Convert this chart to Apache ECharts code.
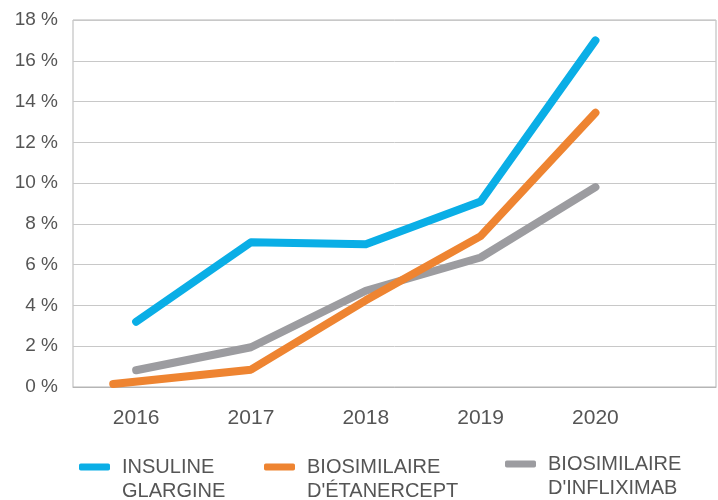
<!DOCTYPE html>
<html>
<head>
<meta charset="utf-8">
<script src="https://cdn.jsdelivr.net/npm/echarts@6/dist/echarts.min.js"></script>
<style>html,body{margin:0;padding:0;background:#fff}#c{width:718px;height:500px}</style>
</head>
<body>
<div id="c"></div>
<script>
// Data
const years = [2016, 2017, 2018, 2019, 2020];
const yearLabels = ['2016', '2017', '2018', '2019', '2020'];
const insulineX = [2016, 2017, 2018, 2019, 2020];
const insuline = [3.2, 7.1, 7.0, 9.1, 17.0];
const etanerceptX = [2015.8, 2017, 2018, 2019, 2020];
const etanercept = [0.15, 0.85, 4.25, 7.4, 13.45];
const infliximabX = [2016, 2017, 2018, 2019, 2020];
const infliximab = [0.82, 1.95, 4.72, 6.35, 9.8];
const yTicks = [0, 2, 4, 6, 8, 10, 12, 14, 16, 18];
const seriesNames = ['INSULINE\nGLARGINE', "BIOSIMILAIRE\nD'ÉTANERCEPT", "BIOSIMILAIRE\nD'INFLIXIMAB"];

const colors = ['#0AAEE6', '#EE8431', '#9C9CA0'];
const textColor = '#555555';
const font = 'Liberation Sans, Arial, sans-serif';

function pairs(xs, ys) { return xs.map((x, i) => [x, ys[i]]); }

function legendFor(idx, left, top) {
  return {
    show: true,
    left: left, top: top,
    padding: 0,
    orient: 'horizontal',
    data: [{ name: seriesNames[idx], icon: 'roundRect' }],
    itemWidth: 31, itemHeight: 7,
    selectedMode: false,
    formatter: n => ' \n' + n,
    textStyle: {
      color: textColor, fontSize: 20, lineHeight: 24, fontFamily: font,
      padding: [0, 0, 0, 7]
    }
  };
}

const chart = echarts.init(document.getElementById('c'), null, { renderer: 'canvas' });
chart.setOption({
  animation: false,
  backgroundColor: '#fff',
  grid: { left: 73, right: 2, top: 20, bottom: 113, show: true, borderColor: '#b5b5b5', borderWidth: 1, containLabel: false },
  xAxis: {
    type: 'value', min: 2015.45, max: 2021.05,
    axisLine: { show: true, lineStyle: { color: '#b5b5b5', width: 1 } },
    axisTick: { show: false },
    splitLine: { show: false },
    axisLabel: {
      customValues: years,
      formatter: v => yearLabels[years.indexOf(Math.round(v))] || '',
      color: textColor, fontSize: 21, fontFamily: font, margin: 21
    }
  },
  yAxis: {
    type: 'value', min: 0, max: 18, interval: 2,
    axisLine: { show: false },
    axisTick: { show: false },
    splitLine: { show: true, lineStyle: { color: '#c8c8c8', width: 1 } },
    axisLabel: {
      formatter: v => (yTicks.includes(v) ? v + ' %' : ''),
      color: textColor, fontSize: 19, fontFamily: font, margin: 15
    }
  },
  legend: [
    legendFor(0, 79, 431),
    legendFor(1, 264, 431),
    legendFor(2, 505, 428)
  ],
  series: [
    { name: seriesNames[2], type: 'line', data: pairs(infliximabX, infliximab), symbol: 'none', color: colors[2],
      lineStyle: { width: 8, color: colors[2], cap: 'round', join: 'round' } },
    { name: seriesNames[1], type: 'line', data: pairs(etanerceptX, etanercept), symbol: 'none', color: colors[1],
      lineStyle: { width: 8, color: colors[1], cap: 'round', join: 'round' } },
    { name: seriesNames[0], type: 'line', data: pairs(insulineX, insuline), symbol: 'none', color: colors[0],
      lineStyle: { width: 8, color: colors[0], cap: 'round', join: 'round' } }
  ]
});
</script>
</body>
</html>
